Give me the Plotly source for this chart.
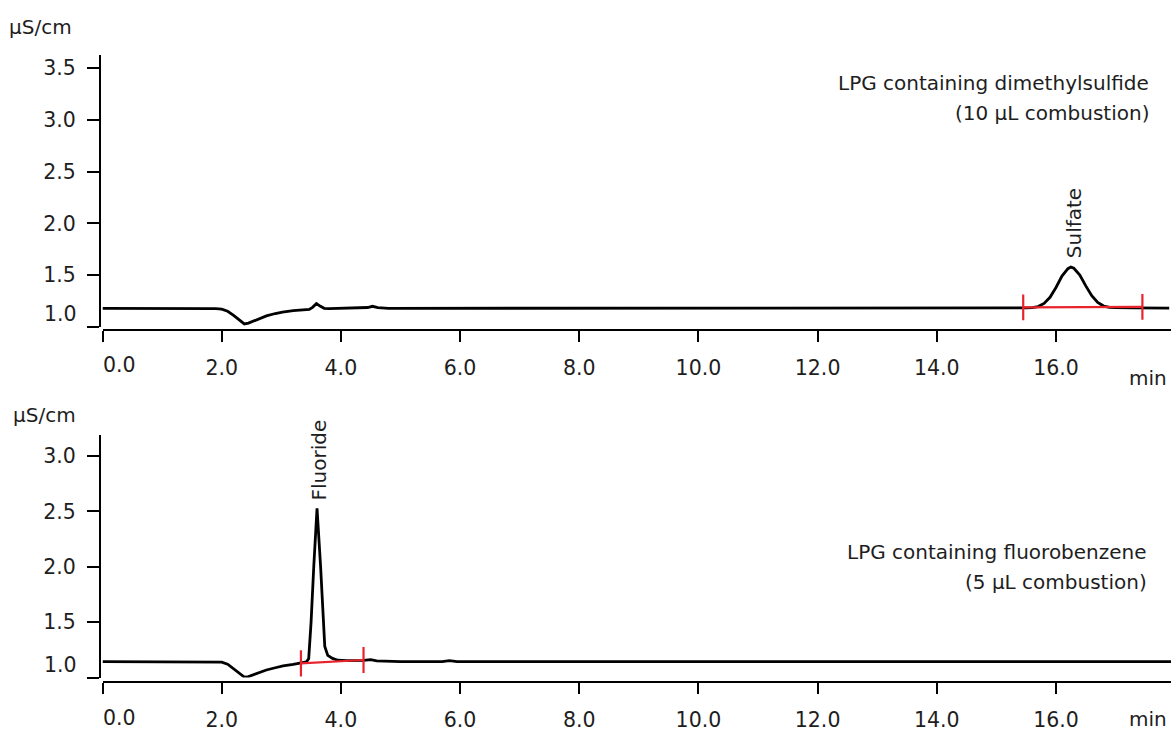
import plotly.graph_objects as go

# ---------------- data ----------------
time_top = [0.0, 0.5, 1.0, 1.5, 1.9, 2.0, 2.1, 2.2, 2.3, 2.38, 2.45, 2.55, 2.65, 2.75,
            2.9, 3.02, 3.2, 3.35, 3.47, 3.53, 3.59, 3.65, 3.72, 3.8, 4.2, 4.45, 4.53,
            4.62, 4.8, 6.0, 8.0, 10.0, 12.0, 14.0, 15.5, 15.6, 15.7, 15.8, 15.9, 16.0,
            16.1, 16.2, 16.25, 16.3, 16.4, 16.5, 16.6, 16.7, 16.8, 16.9, 17.0, 17.3, 17.9]
signal_top = [1.178, 1.178, 1.176, 1.177, 1.176, 1.170, 1.150, 1.110, 1.060, 1.027, 1.035,
              1.060, 1.085, 1.105, 1.128, 1.142, 1.155, 1.163, 1.168, 1.190, 1.225, 1.200,
              1.178, 1.176, 1.178, 1.186, 1.198, 1.185, 1.178, 1.178, 1.176, 1.177, 1.178,
              1.180, 1.182, 1.185, 1.195, 1.225, 1.285, 1.380, 1.490, 1.562, 1.577, 1.566,
              1.500, 1.395, 1.300, 1.235, 1.200, 1.188, 1.184, 1.183, 1.181]

time_bottom = [0.0, 0.5, 1.0, 1.5, 1.9, 2.0, 2.1, 2.2, 2.3, 2.38, 2.45, 2.55, 2.65, 2.75,
               2.9, 3.03, 3.2, 3.33, 3.42, 3.46, 3.50, 3.545, 3.60, 3.66, 3.70, 3.73,
               3.78, 3.86, 3.95, 4.1, 4.38, 4.5, 4.6, 5.0, 5.7, 5.82, 5.95, 8.0, 10.0,
               12.0, 14.0, 16.0, 17.95]
signal_bottom = [1.143, 1.141, 1.140, 1.141, 1.142, 1.138, 1.120, 1.080, 1.035, 1.004,
                 1.008, 1.030, 1.050, 1.068, 1.088, 1.104, 1.118, 1.128, 1.140, 1.170,
                 1.500, 2.000, 2.528, 2.000, 1.500, 1.280, 1.200, 1.172, 1.156, 1.152,
                 1.155, 1.162, 1.150, 1.143, 1.143, 1.152, 1.143, 1.142, 1.142, 1.142,
                 1.143, 1.143, 1.143]

# integration baselines (start, end) and their levels
sulfate_int_t = [15.45, 17.45]
sulfate_int_v = [1.188, 1.192]
fluoride_int_t = [3.33, 4.38]
fluoride_int_v = [1.128, 1.158]

x_ticks = [0.0, 2.0, 4.0, 6.0, 8.0, 10.0, 12.0, 14.0, 16.0]
x_ticktext = ["", "2.0", "4.0", "6.0", "8.0", "10.0", "12.0", "14.0", "16.0"]
y_ticks_top = [1.0, 1.5, 2.0, 2.5, 3.0, 3.5]
y_ticktext_top = ["", "1.5", "2.0", "2.5", "3.0", "3.5"]
y_ticks_bottom = [1.0, 1.5, 2.0, 2.5, 3.0]
y_ticktext_bottom = ["", "1.5", "2.0", "2.5", "3.0"]

title_top = ["LPG containing dimethylsulfide", "(10 µL combustion)"]
title_bottom = ["LPG containing fluorobenzene", "(5 µL combustion)"]
unit_label = "µS/cm"
time_label = "min"

# ---------------- layout helpers ----------------
W, H = 1171, 733
FONT = "DejaVu Sans"
FS = 20
FS_TICK = 20.5
TXT = "#1e1e1e"
RED = "#e8232b"


def px(x):
    return x / W


def py(y):
    return 1 - y / H


fig = go.Figure()

fig.add_trace(go.Scatter(x=time_top, y=signal_top, mode="lines",
                         line=dict(color="black", width=2.8), xaxis="x", yaxis="y",
                         showlegend=False, hoverinfo="skip"))
fig.add_trace(go.Scatter(x=time_bottom, y=signal_bottom, mode="lines",
                         line=dict(color="black", width=2.8), xaxis="x2", yaxis="y2",
                         showlegend=False, hoverinfo="skip"))

# integration baselines
fig.add_trace(go.Scatter(x=sulfate_int_t, y=sulfate_int_v, mode="lines",
                         line=dict(color=RED, width=2.2), xaxis="x", yaxis="y",
                         showlegend=False, hoverinfo="skip"))
fig.add_trace(go.Scatter(x=fluoride_int_t, y=fluoride_int_v, mode="lines",
                         line=dict(color=RED, width=2.2), xaxis="x2", yaxis="y2",
                         showlegend=False, hoverinfo="skip"))

# integration tick marks
for t, v in zip(sulfate_int_t, sulfate_int_v):
    fig.add_shape(type="line", xref="x", yref="y", x0=t, x1=t, y0=v - 0.125, y1=v + 0.125,
                  line=dict(color=RED, width=2.2))
for t, v in zip(fluoride_int_t, fluoride_int_v):
    fig.add_shape(type="line", xref="x2", yref="y2", x0=t, x1=t, y0=v - 0.118, y1=v + 0.118,
                  line=dict(color=RED, width=2.2))

axis_common = dict(showline=True, linecolor="black", linewidth=2.2, ticks="outside",
                   tickcolor="black", tickwidth=2.2, showgrid=False, zeroline=False,
                   tickfont=dict(family=FONT, size=FS_TICK, color=TXT))

x_dom = [px(102.5), 1.0]
x_rng = [0, 17.93]

fig.update_layout(
    width=W, height=H,
    margin=dict(l=0, r=0, t=0, b=0),
    paper_bgcolor="white", plot_bgcolor="white",
    font=dict(family=FONT, size=FS, color=TXT),
    xaxis=dict(domain=x_dom, range=x_rng, anchor="free", position=py(329.5),
               tickvals=x_ticks, ticktext=x_ticktext, ticklen=11, ticklabelstandoff=9,
               **axis_common),
    yaxis=dict(domain=[py(326.75), py(55)], range=[1.0, 3.628], anchor="free",
               position=px(100), tickvals=y_ticks_top, ticktext=y_ticktext_top,
               ticklen=12, ticklabelstandoff=7, **axis_common),
    xaxis2=dict(domain=x_dom, range=x_rng, anchor="free", position=py(681.5),
                tickvals=x_ticks, ticktext=x_ticktext, ticklen=11, ticklabelstandoff=9,
                **axis_common),
    yaxis2=dict(domain=[py(677.5), py(435)], range=[1.0, 3.19], anchor="free",
                position=px(100), tickvals=y_ticks_bottom, ticktext=y_ticktext_bottom,
                ticklen=12, ticklabelstandoff=7, **axis_common),
)

ann_font = dict(family=FONT, size=FS, color=TXT)
tick_font = dict(family=FONT, size=FS_TICK, color=TXT)
anns = []
# peak labels
anns.append(dict(x=16.3, y=2.0, xref="x", yref="y", text="Sulfate", textangle=-90,
                 showarrow=False, xanchor="center", yanchor="middle", font=ann_font))
anns.append(dict(x=3.64, y=2.964, xref="x2", yref="y2", text="Fluoride", textangle=-90,
                 showarrow=False, xanchor="center", yanchor="middle", font=ann_font))
# titles
for i, line in enumerate(title_top):
    anns.append(dict(x=px(1151), y=py(83 + 30 * i), xref="paper", yref="paper", text=line,
                     showarrow=False, xanchor="right", yanchor="middle", font=ann_font))
for i, line in enumerate(title_bottom):
    anns.append(dict(x=px(1149), y=py(552 + 30 * i), xref="paper", yref="paper", text=line,
                     showarrow=False, xanchor="right", yanchor="middle", font=ann_font))
# unit labels
anns.append(dict(x=px(7), y=py(27), xref="paper", yref="paper", text=unit_label,
                 showarrow=False, xanchor="left", yanchor="middle", font=ann_font))
anns.append(dict(x=px(11), y=py(415), xref="paper", yref="paper", text=unit_label,
                 showarrow=False, xanchor="left", yanchor="middle", font=ann_font))
# min labels
anns.append(dict(x=px(1169), y=py(378), xref="paper", yref="paper", text=time_label,
                 showarrow=False, xanchor="right", yanchor="middle", font=ann_font))
anns.append(dict(x=px(1169), y=py(719), xref="paper", yref="paper", text=time_label,
                 showarrow=False, xanchor="right", yanchor="middle", font=ann_font))
# shifted first tick labels
anns.append(dict(x=px(101), y=py(365), xref="paper", yref="paper", text="0.0",
                 showarrow=False, xanchor="left", yanchor="middle", font=tick_font))
anns.append(dict(x=px(101), y=py(718), xref="paper", yref="paper", text="0.0",
                 showarrow=False, xanchor="left", yanchor="middle", font=tick_font))
anns.append(dict(x=px(79), y=py(314), xref="paper", yref="paper", text="1.0",
                 showarrow=False, xanchor="right", yanchor="middle", font=tick_font))
anns.append(dict(x=px(79), y=py(665), xref="paper", yref="paper", text="1.0",
                 showarrow=False, xanchor="right", yanchor="middle", font=tick_font))
fig.update_layout(annotations=anns)

fig.write_html("out.html", post_script="document.body.style.margin='0';",
               config={"displayModeBar": False})
